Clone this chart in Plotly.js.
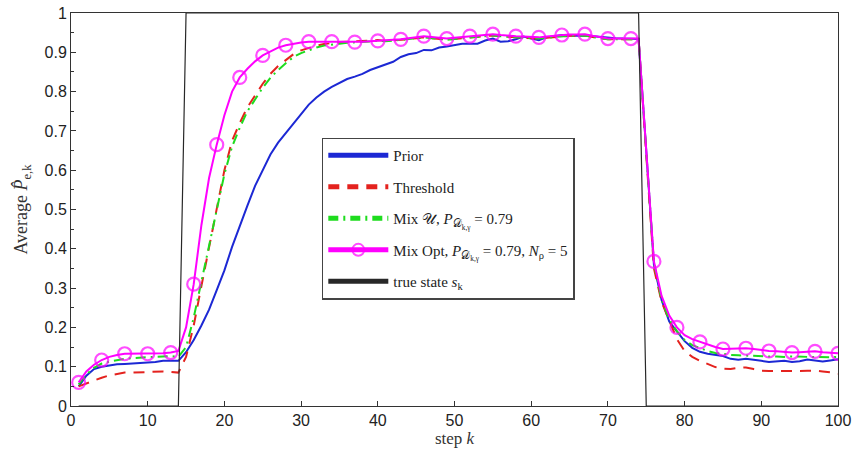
<!DOCTYPE html>
<html>
<head>
<meta charset="utf-8">
<script src="https://cdn.plot.ly/plotly-3.0.1.min.js"></script>
<style>html,body{margin:0;padding:0;background:#fff;}#chart{width:856px;height:457px;}</style>
</head>
<body>
<div id="chart"></div>
<script>
// step k = 1..100
const steps = [1,2,3,4,5,6,7,8,9,10,11,12,13,14,15,16,17,18,19,20,21,22,23,24,25,26,27,28,29,30,31,32,33,34,35,36,37,38,39,40,41,42,43,44,45,46,47,48,49,50,51,52,53,54,55,56,57,58,59,60,61,62,63,64,65,66,67,68,69,70,71,72,73,74,75,76,77,78,79,80,81,82,83,84,85,86,87,88,89,90,91,92,93,94,95,96,97,98,99,100];

const prior = [0.050,0.077,0.094,0.100,0.103,0.106,0.107,0.108,0.109,0.110,0.112,0.115,0.115,0.115,0.137,0.168,0.205,0.245,0.295,0.345,0.405,0.460,0.510,0.560,0.600,0.640,0.670,0.695,0.720,0.745,0.767,0.785,0.800,0.812,0.822,0.832,0.838,0.845,0.855,0.862,0.868,0.876,0.888,0.895,0.898,0.906,0.905,0.912,0.915,0.918,0.922,0.922,0.922,0.930,0.935,0.927,0.928,0.933,0.940,0.935,0.931,0.938,0.941,0.944,0.943,0.942,0.943,0.941,0.939,0.937,0.936,0.935,0.935,0.934,0.650,0.360,0.270,0.215,0.190,0.165,0.148,0.138,0.133,0.130,0.127,0.120,0.118,0.120,0.118,0.115,0.112,0.113,0.115,0.112,0.114,0.118,0.116,0.113,0.116,0.119];

const threshold = [0.050,0.058,0.065,0.072,0.078,0.082,0.085,0.085,0.086,0.086,0.087,0.088,0.087,0.085,0.125,0.205,0.305,0.405,0.505,0.600,0.675,0.720,0.760,0.790,0.820,0.845,0.865,0.880,0.895,0.905,0.912,0.917,0.921,0.924,0.926,0.927,0.928,0.929,0.930,0.931,0.929,0.930,0.931,0.933,0.936,0.938,0.936,0.934,0.932,0.934,0.936,0.938,0.940,0.942,0.943,0.941,0.939,0.938,0.937,0.936,0.935,0.937,0.939,0.941,0.942,0.942,0.943,0.939,0.936,0.933,0.933,0.933,0.933,0.933,0.640,0.350,0.265,0.215,0.170,0.140,0.125,0.115,0.107,0.099,0.095,0.094,0.097,0.098,0.094,0.090,0.089,0.089,0.088,0.089,0.089,0.090,0.090,0.088,0.086,0.082];

const mixU = [0.055,0.080,0.097,0.108,0.113,0.117,0.120,0.122,0.123,0.123,0.124,0.125,0.127,0.125,0.150,0.225,0.315,0.405,0.500,0.590,0.660,0.708,0.750,0.780,0.810,0.835,0.855,0.872,0.888,0.898,0.905,0.912,0.917,0.920,0.922,0.924,0.925,0.927,0.928,0.929,0.928,0.930,0.931,0.933,0.936,0.938,0.936,0.934,0.932,0.934,0.936,0.938,0.940,0.942,0.943,0.941,0.939,0.938,0.937,0.936,0.935,0.937,0.939,0.941,0.942,0.942,0.943,0.939,0.936,0.933,0.933,0.933,0.933,0.933,0.645,0.365,0.270,0.220,0.190,0.168,0.155,0.147,0.140,0.135,0.132,0.130,0.129,0.128,0.128,0.127,0.126,0.126,0.125,0.126,0.125,0.125,0.125,0.124,0.124,0.125];

const mixOpt = [0.060,0.088,0.105,0.117,0.125,0.130,0.133,0.133,0.133,0.133,0.133,0.134,0.136,0.140,0.200,0.310,0.460,0.580,0.665,0.740,0.800,0.836,0.858,0.877,0.892,0.903,0.912,0.918,0.922,0.925,0.927,0.927,0.927,0.927,0.927,0.926,0.926,0.927,0.928,0.929,0.930,0.932,0.933,0.936,0.939,0.941,0.939,0.937,0.935,0.937,0.939,0.941,0.943,0.945,0.946,0.944,0.942,0.941,0.940,0.939,0.938,0.940,0.942,0.944,0.945,0.945,0.946,0.942,0.938,0.935,0.935,0.935,0.935,0.935,0.650,0.368,0.280,0.230,0.200,0.180,0.170,0.163,0.155,0.150,0.145,0.146,0.147,0.147,0.145,0.142,0.140,0.139,0.138,0.136,0.137,0.138,0.139,0.137,0.135,0.134];

// marker shown at every third step (1,4,7,...,100)
const optMarkerSize = steps.map(function(k){ return ((k - 1) % 3 === 0) ? 13 : 0; });

const trueState = [0,0,0,0,0,0,0,0,0,0,0,0,0,0,1,1,1,1,1,1,1,1,1,1,1,1,1,1,1,1,1,1,1,1,1,1,1,1,1,1,1,1,1,1,1,1,1,1,1,1,1,1,1,1,1,1,1,1,1,1,1,1,1,1,1,1,1,1,1,1,1,1,1,1,0,0,0,0,0,0,0,0,0,0,0,0,0,0,0,0,0,0,0,0,0,0,0,0,0,0];

const xTicks = [0,10,20,30,40,50,60,70,80,90,100];
const yTicks = [0,0.1,0.2,0.3,0.4,0.5,0.6,0.7,0.8,0.9,1];

const serif = '"Liberation Serif", "DejaVu Serif", serif';
const sans = '"Liberation Sans", Arial, sans-serif';

const traces = [
  {x: steps, y: prior, mode: 'lines', name: 'Prior', legendgroup: 'a',
   line: {color: 'rgb(28,40,212)', width: 2}},
  {x: steps, y: threshold, mode: 'lines', name: 'Threshold', legendgroup: 'b',
   line: {color: 'rgb(228,34,30)', width: 2, dash: '11px,8px'}},
  {x: steps, y: mixU, mode: 'lines', name: 'Mix 𝒰, <i>P</i><sub>𝒟<sub>k,γ</sub></sub> = 0.79', legendgroup: 'c',
   line: {color: 'rgb(30,220,30)', width: 2, dash: '10px,5px,2px,5px'}},
  {x: steps, y: mixOpt, mode: 'lines+markers', name: 'Mix Opt, <i>P</i><sub>𝒟<sub>k,γ</sub></sub> = 0.79, <i>N</i><sub>ρ</sub> = 5', legendgroup: 'd',
   line: {color: 'rgb(255,0,255)', width: 2},
   marker: {symbol: 'circle-open', size: optMarkerSize, color: 'rgb(255,0,255)', line: {width: 2.2, color: 'rgb(255,0,255)'}}},
  {x: steps, y: trueState, mode: 'lines', name: 'true state <i>s</i><sub>k</sub>', legendgroup: 'e',
   line: {color: 'rgb(40,40,40)', width: 1.2}}
];

const layout = {
  width: 856, height: 457,
  margin: {l: 71, r: 18, t: 13, b: 51},
  paper_bgcolor: '#fff', plot_bgcolor: '#fff',
  showlegend: true,
  legend: {
    x: 0.327, y: 0.683, xanchor: 'left', yanchor: 'top',
    bgcolor: '#fff', bordercolor: '#444', borderwidth: 1.5,
    font: {family: serif, size: 15, color: '#222'},
    tracegroupgap: 9, itemsizing: 'constant', itemwidth: 60
  },
  xaxis: {
    range: [0, 100], tickvals: xTicks, ticks: 'inside', ticklen: 5, tickcolor: '#333',
    showline: true, linecolor: '#333', linewidth: 1, mirror: true, showgrid: false, zeroline: false,
    tickfont: {family: sans, size: 16, color: '#222'},
    title: {text: 'step <i>k</i>', font: {family: serif, size: 17, color: '#333'}, standoff: 2}
  },
  yaxis: {
    range: [0, 1], tickvals: yTicks, ticktext: yTicks.map(String), ticks: 'inside', ticklen: 5, tickcolor: '#333',
    showline: true, linecolor: '#333', linewidth: 1, mirror: true, showgrid: false, zeroline: false,
    minor: {dtick: 0.05, ticks: 'inside', ticklen: 3, tickcolor: '#333', showgrid: false},
    tickfont: {family: sans, size: 16, color: '#222'},
    title: {text: 'Average <i>P̂</i><sub>e,k</sub>', font: {family: serif, size: 18, color: '#333'}, standoff: 12}
  }
};

Plotly.newPlot('chart', traces, layout, {staticPlot: true, displayModeBar: false});
</script>
</body>
</html>
